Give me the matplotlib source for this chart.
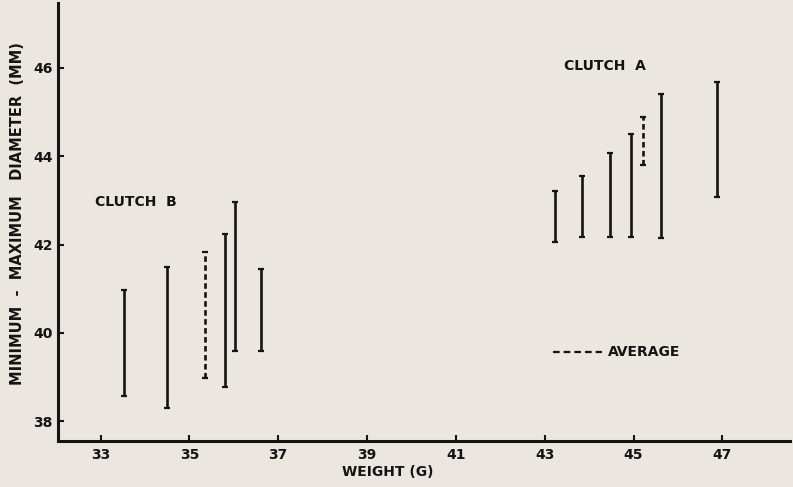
import matplotlib
matplotlib.use("Agg")
import matplotlib.pyplot as plt

# Clutch B (weight g, min diameter mm, max diameter mm)
b_weight = [33.53, 34.50, 35.81, 36.03, 36.61]
b_min = [38.57, 38.29, 38.78, 39.59, 39.59]
b_max = [40.97, 41.50, 42.24, 42.97, 41.44]
b_avg_weight = [35.35]
b_avg_min = [38.97]
b_avg_max = [41.82]

# Clutch A
a_weight = [43.23, 43.85, 44.48, 44.94, 45.61, 46.88]
a_min = [42.05, 42.16, 42.16, 42.18, 42.14, 43.07]
a_max = [43.22, 43.56, 44.08, 44.50, 45.41, 45.67]
a_avg_weight = [45.21]
a_avg_min = [43.79]
a_avg_max = [44.89]

x_ticks = [33, 35, 37, 39, 41, 43, 45, 47]
y_ticks = [38, 40, 42, 44, 46]

BG = "#ebe6df"
INK = "#141414"

plt.rcParams["font.family"] = ["DejaVu Sans"]
plt.rcParams["font.weight"] = "bold"

fig = plt.figure(figsize=(7.93, 4.87), dpi=100, facecolor=BG)
ax = fig.add_axes([0.0731, 0.0945, 0.9229, 0.8993])
ax.set_facecolor(BG)

lw = 1.9
for w, lo, hi in [(b_weight, b_min, b_max), (a_weight, a_min, a_max)]:
    ax.vlines(w, lo, hi, colors=INK, linewidth=lw)
    ax.plot(w, lo, ls="none", marker="_", ms=5, mew=1.6, color=INK)
    ax.plot(w, hi, ls="none", marker="_", ms=5, mew=1.6, color=INK)

for w, lo, hi in [(b_avg_weight, b_avg_min, b_avg_max), (a_avg_weight, a_avg_min, a_avg_max)]:
    for xi, l, h in zip(w, lo, hi):
        ax.plot([xi, xi], [l, h], color=INK, linewidth=lw, dashes=(2.1, 1.3))
    ax.plot(w, lo, ls="none", marker="_", ms=4, mew=1.6, color=INK)
    ax.plot(w, hi, ls="none", marker="_", ms=4, mew=1.6, color=INK)

# legend for average
ax.plot([43.19, 44.29], [39.57, 39.57], color=INK, linewidth=1.6, dashes=(3.0, 1.8))
ax.text(44.42, 39.57, "AVERAGE", fontsize=10, color=INK, va="center", ha="left",
        fontweight="bold")

ax.text(32.88, 42.97, "CLUTCH  B", fontsize=10, color=INK, va="center", ha="left",
        fontweight="bold")
ax.text(43.43, 46.05, "CLUTCH  A", fontsize=10, color=INK, va="center", ha="left",
        fontweight="bold")

ax.set_xlim(32.04, 48.52)
ax.set_ylim(37.55, 47.47)
ax.set_xticks(x_ticks)
ax.set_yticks(y_ticks)
ax.set_xticklabels([str(t) for t in x_ticks], fontweight="bold")
ax.set_yticklabels([str(t) for t in y_ticks], fontweight="bold")
ax.tick_params(axis="both", direction="in", length=4, width=1.5, colors=INK,
               labelsize=10, pad=5)
ax.tick_params(axis="y", pad=4)

for s in ["top", "right"]:
    ax.spines[s].set_visible(False)
for s in ["left", "bottom"]:
    ax.spines[s].set_linewidth(2.2)
    ax.spines[s].set_color(INK)

ax.set_xlabel("WEIGHT (G)", fontsize=10, color=INK, fontweight="bold")
ax.xaxis.set_label_coords(0.451, -0.055)
ax.set_ylabel("MINIMUM  -  MAXIMUM   DIAMETER  (MM)", fontsize=10.5, color=INK,
              fontweight="bold")
ax.yaxis.set_label_coords(-0.045, 0.52)

fig.savefig("out.png", dpi=100, facecolor=BG)
